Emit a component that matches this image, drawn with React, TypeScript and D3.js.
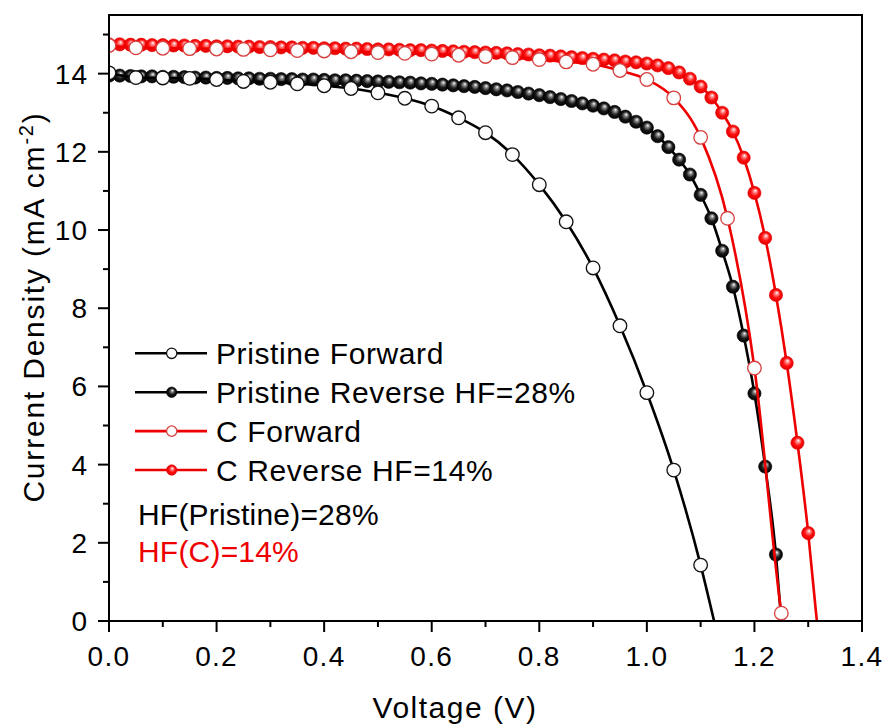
import React from "react";
import * as d3 from "d3";

const W = 888;
const H = 725;

// Pristine Forward (open black circles), step 0.05 V
const pfV = [0, 0.05, 0.1, 0.15, 0.2, 0.25, 0.3, 0.35, 0.4, 0.45, 0.5, 0.55, 0.6, 0.65, 0.7, 0.75, 0.8, 0.85, 0.9, 0.95, 1.0, 1.05, 1.1];
const pfJ = [14.02, 13.9, 13.89, 13.88, 13.85, 13.8, 13.78, 13.74, 13.69, 13.62, 13.51, 13.37, 13.17, 12.87, 12.49, 11.93, 11.16, 10.21, 9.03, 7.55, 5.84, 3.86, 1.43];
const pfVoc = 1.125;

// Pristine Reverse (filled black spheres), step 0.02 V
const prV = [0, 0.02, 0.04, 0.06, 0.08, 0.1, 0.12, 0.14, 0.16, 0.18, 0.2, 0.22, 0.24, 0.26, 0.28, 0.3, 0.32, 0.34, 0.36, 0.38, 0.4, 0.42, 0.44, 0.46, 0.48, 0.5, 0.52, 0.54, 0.56, 0.58, 0.6, 0.62, 0.64, 0.66, 0.68, 0.7, 0.72, 0.74, 0.76, 0.78, 0.8, 0.82, 0.84, 0.86, 0.88, 0.9, 0.92, 0.94, 0.96, 0.98, 1.0, 1.02, 1.04, 1.06, 1.08, 1.1, 1.12, 1.14, 1.16, 1.18, 1.2, 1.22, 1.24];
const prJ = [13.95, 13.95, 13.94, 13.93, 13.93, 13.92, 13.92, 13.91, 13.9, 13.9, 13.89, 13.89, 13.88, 13.88, 13.87, 13.87, 13.86, 13.86, 13.85, 13.85, 13.84, 13.83, 13.83, 13.82, 13.81, 13.8, 13.79, 13.78, 13.77, 13.75, 13.74, 13.72, 13.7, 13.68, 13.66, 13.63, 13.6, 13.57, 13.53, 13.49, 13.45, 13.4, 13.35, 13.3, 13.24, 13.18, 13.11, 13.02, 12.9, 12.77, 12.62, 12.4, 12.12, 11.8, 11.42, 10.9, 10.3, 9.47, 8.55, 7.3, 5.82, 3.95, 1.7];
const prVoc = 1.25;

// C Forward (open red circles), step 0.05 V
const cfV = [0, 0.05, 0.1, 0.15, 0.2, 0.25, 0.3, 0.35, 0.4, 0.45, 0.5, 0.55, 0.6, 0.65, 0.7, 0.75, 0.8, 0.85, 0.9, 0.95, 1.0, 1.05, 1.1, 1.15, 1.2, 1.25];
const cfJ = [14.72, 14.66, 14.65, 14.64, 14.63, 14.62, 14.61, 14.59, 14.58, 14.56, 14.54, 14.52, 14.5, 14.47, 14.44, 14.41, 14.36, 14.3, 14.24, 14.08, 13.85, 13.38, 12.37, 10.3, 6.47, 0.2];
const cfVoc = 1.252;

// C Reverse (filled red spheres), step 0.02 V
const crV = [0, 0.02, 0.04, 0.06, 0.08, 0.1, 0.12, 0.14, 0.16, 0.18, 0.2, 0.22, 0.24, 0.26, 0.28, 0.3, 0.32, 0.34, 0.36, 0.38, 0.4, 0.42, 0.44, 0.46, 0.48, 0.5, 0.52, 0.54, 0.56, 0.58, 0.6, 0.62, 0.64, 0.66, 0.68, 0.7, 0.72, 0.74, 0.76, 0.78, 0.8, 0.82, 0.84, 0.86, 0.88, 0.9, 0.92, 0.94, 0.96, 0.98, 1.0, 1.02, 1.04, 1.06, 1.08, 1.1, 1.12, 1.14, 1.16, 1.18, 1.2, 1.22, 1.24, 1.26, 1.28, 1.3];
const crJ = [14.75, 14.75, 14.74, 14.74, 14.73, 14.73, 14.72, 14.72, 14.71, 14.71, 14.7, 14.7, 14.69, 14.69, 14.68, 14.68, 14.67, 14.67, 14.66, 14.66, 14.65, 14.65, 14.64, 14.64, 14.63, 14.62, 14.62, 14.61, 14.6, 14.6, 14.59, 14.58, 14.57, 14.56, 14.55, 14.54, 14.53, 14.52, 14.5, 14.49, 14.47, 14.46, 14.44, 14.42, 14.4, 14.38, 14.36, 14.34, 14.31, 14.29, 14.26, 14.21, 14.14, 14.03, 13.87, 13.67, 13.39, 13.0, 12.52, 11.85, 10.95, 9.8, 8.34, 6.6, 4.56, 2.25];
const crVoc = 1.316;

const xTicks = [0, 0.2, 0.4, 0.6, 0.8, 1.0, 1.2, 1.4];
const xMinor = [0.1, 0.3, 0.5, 0.7, 0.9, 1.1, 1.3];
const yTicks = [0, 2, 4, 6, 8, 10, 12, 14];
const yMinor = [1, 3, 5, 7, 9, 11, 13, 15];

const legendLabels = ["Pristine Forward", "Pristine Reverse HF=28%", "C Forward", "C Reverse HF=14%"];
const noteLabels = ["HF(Pristine)=28%", "HF(C)=14%"];

const FONT = "'Liberation Sans', Arial, Helvetica, sans-serif";

const left = 109, right = 862, top = 15, bottom = 621;

export default function App() {
  const x = d3.scaleLinear().domain([0, 1.4]).range([left, right]);
  const y = d3.scaleLinear().domain([0, 15.5]).range([bottom, top]);

  const line = d3
    .line<[number, number]>()
    .x((d) => x(d[0]))
    .y((d) => y(d[1]))
    .curve(d3.curveMonotoneX);

  const series = [
    { name: legendLabels[1], V: prV, J: prJ, voc: prVoc, color: "#000", filled: true, grad: "gBlack", stroke: "#000" },
    { name: legendLabels[0], V: pfV, J: pfJ, voc: pfVoc, color: "#000", filled: false, grad: "gWhite", stroke: "#111" },
    { name: legendLabels[3], V: crV, J: crJ, voc: crVoc, color: "#ee0000", filled: true, grad: "gRed", stroke: "#e00000" },
    { name: legendLabels[2], V: cfV, J: cfJ, voc: cfVoc, color: "#ee0000", filled: false, grad: "gWhite", stroke: "#d84040" },
  ];

  const legendOrder = [1, 0, 3, 2];
  const legY0 = 353.3;
  const legDy = 38.9;

  const marker = (s: any, cx: number, cy: number, r: number, key: any) =>
    s.filled ? (
      <circle key={key} cx={cx} cy={cy} r={r} fill={`url(#${s.grad})`} stroke={s.color} strokeWidth={0.6} />
    ) : (
      <circle key={key} cx={cx} cy={cy} r={r} fill="url(#gWhite)" stroke={s.stroke} strokeWidth={1.3} />
    );

  return (
    <svg width={W} height={H} style={{ position: "absolute", left: 0, top: 0, background: "#fff" }} fontFamily={FONT}>
      <defs>
        <radialGradient id="gBlack" cx="0.5" cy="0.5" r="0.5" fx="0.58" fy="0.32">
          <stop offset="0" stopColor="#ffffff" />
          <stop offset="0.25" stopColor="#8a8a8a" />
          <stop offset="0.6" stopColor="#1a1a1a" />
          <stop offset="1" stopColor="#000000" />
        </radialGradient>
        <radialGradient id="gRed" cx="0.5" cy="0.5" r="0.5" fx="0.58" fy="0.32">
          <stop offset="0" stopColor="#ffffff" />
          <stop offset="0.25" stopColor="#ff8a8a" />
          <stop offset="0.6" stopColor="#ff1010" />
          <stop offset="1" stopColor="#dd0000" />
        </radialGradient>
        <radialGradient id="gWhite" cx="0.5" cy="0.5" r="0.5" fx="0.55" fy="0.35">
          <stop offset="0" stopColor="#ffffff" />
          <stop offset="0.7" stopColor="#fdfdfd" />
          <stop offset="1" stopColor="#f0f0f0" />
        </radialGradient>
        <clipPath id="plotClip">
          <rect x={left} y={top} width={right - left} height={bottom - top} />
        </clipPath>
      </defs>

      {/* data */}
      <g clipPath="url(#plotClip)">
        {series.map((s, si) => {
          const pts: [number, number][] = s.V.map((v, i) => [v, s.J[i]] as [number, number]);
          const linePts: [number, number][] = [...pts, [s.voc, 0]];
          return (
            <g key={si}>
              <path d={line(linePts) || ""} fill="none" stroke={s.color} strokeWidth={2.6} />
              {pts.map((p, i) => marker(s, x(p[0]), y(p[1]), s.filled ? 6.6 : 6.8, i))}
            </g>
          );
        })}
      </g>

      {/* frame */}
      <rect x={left} y={top} width={right - left} height={bottom - top} fill="none" stroke="#000" strokeWidth={2} />

      {/* x axis ticks */}
      {xTicks.map((t) => (
        <g key={"xt" + t}>
          <line x1={x(t)} x2={x(t)} y1={bottom} y2={bottom + 11} stroke="#000" strokeWidth={2} />
          <text x={x(t)} y={666} fontSize={28} textAnchor="middle" letterSpacing={1.3} fill="#000">
            {t.toFixed(1)}
          </text>
        </g>
      ))}
      {xMinor.map((t) => (
        <line key={"xm" + t} x1={x(t)} x2={x(t)} y1={bottom} y2={bottom + 6} stroke="#000" strokeWidth={2} />
      ))}

      {/* y axis ticks */}
      {yTicks.map((t) => (
        <g key={"yt" + t}>
          <line x1={left - 11} x2={left} y1={y(t)} y2={y(t)} stroke="#000" strokeWidth={2} />
          <text x={88} y={y(t) + 10} fontSize={28} textAnchor="end" letterSpacing={1} fill="#000">
            {t}
          </text>
        </g>
      ))}
      {yMinor.map((t) => (
        <line key={"ym" + t} x1={left - 6} x2={left} y1={y(t)} y2={y(t)} stroke="#000" strokeWidth={2} />
      ))}

      {/* axis titles */}
      <text x={455} y={718} fontSize={30} textAnchor="middle" letterSpacing={1.5} fill="#000">
        Voltage (V)
      </text>
      <text
        transform={`translate(44, 307) rotate(-90)`}
        fontSize={30}
        textAnchor="middle"
        letterSpacing={1.8}
        fill="#000"
      >
        Current Density (mA cm
        <tspan dy={-11} fontSize={20}>-2</tspan>
        <tspan dy={11}>)</tspan>
      </text>

      {/* legend */}
      {legendOrder.map((si, k) => {
        const s = series[si];
        const cy = legY0 + k * legDy;
        return (
          <g key={"lg" + k}>
            <line x1={135} x2={207} y1={cy} y2={cy} stroke={s.color} strokeWidth={2.6} />
            {marker(s, 171.7, cy, 5.2, "m")}
            <text x={216} y={cy + 10.8} fontSize={30} letterSpacing={0.6} fill="#000">
              {s.name}
            </text>
          </g>
        );
      })}
      <text x={138} y={525} fontSize={30} letterSpacing={0.2} fill="#000">
        {noteLabels[0]}
      </text>
      <text x={138} y={562} fontSize={30} letterSpacing={0.2} fill="#ee0000">
        {noteLabels[1]}
      </text>
    </svg>
  );
}
